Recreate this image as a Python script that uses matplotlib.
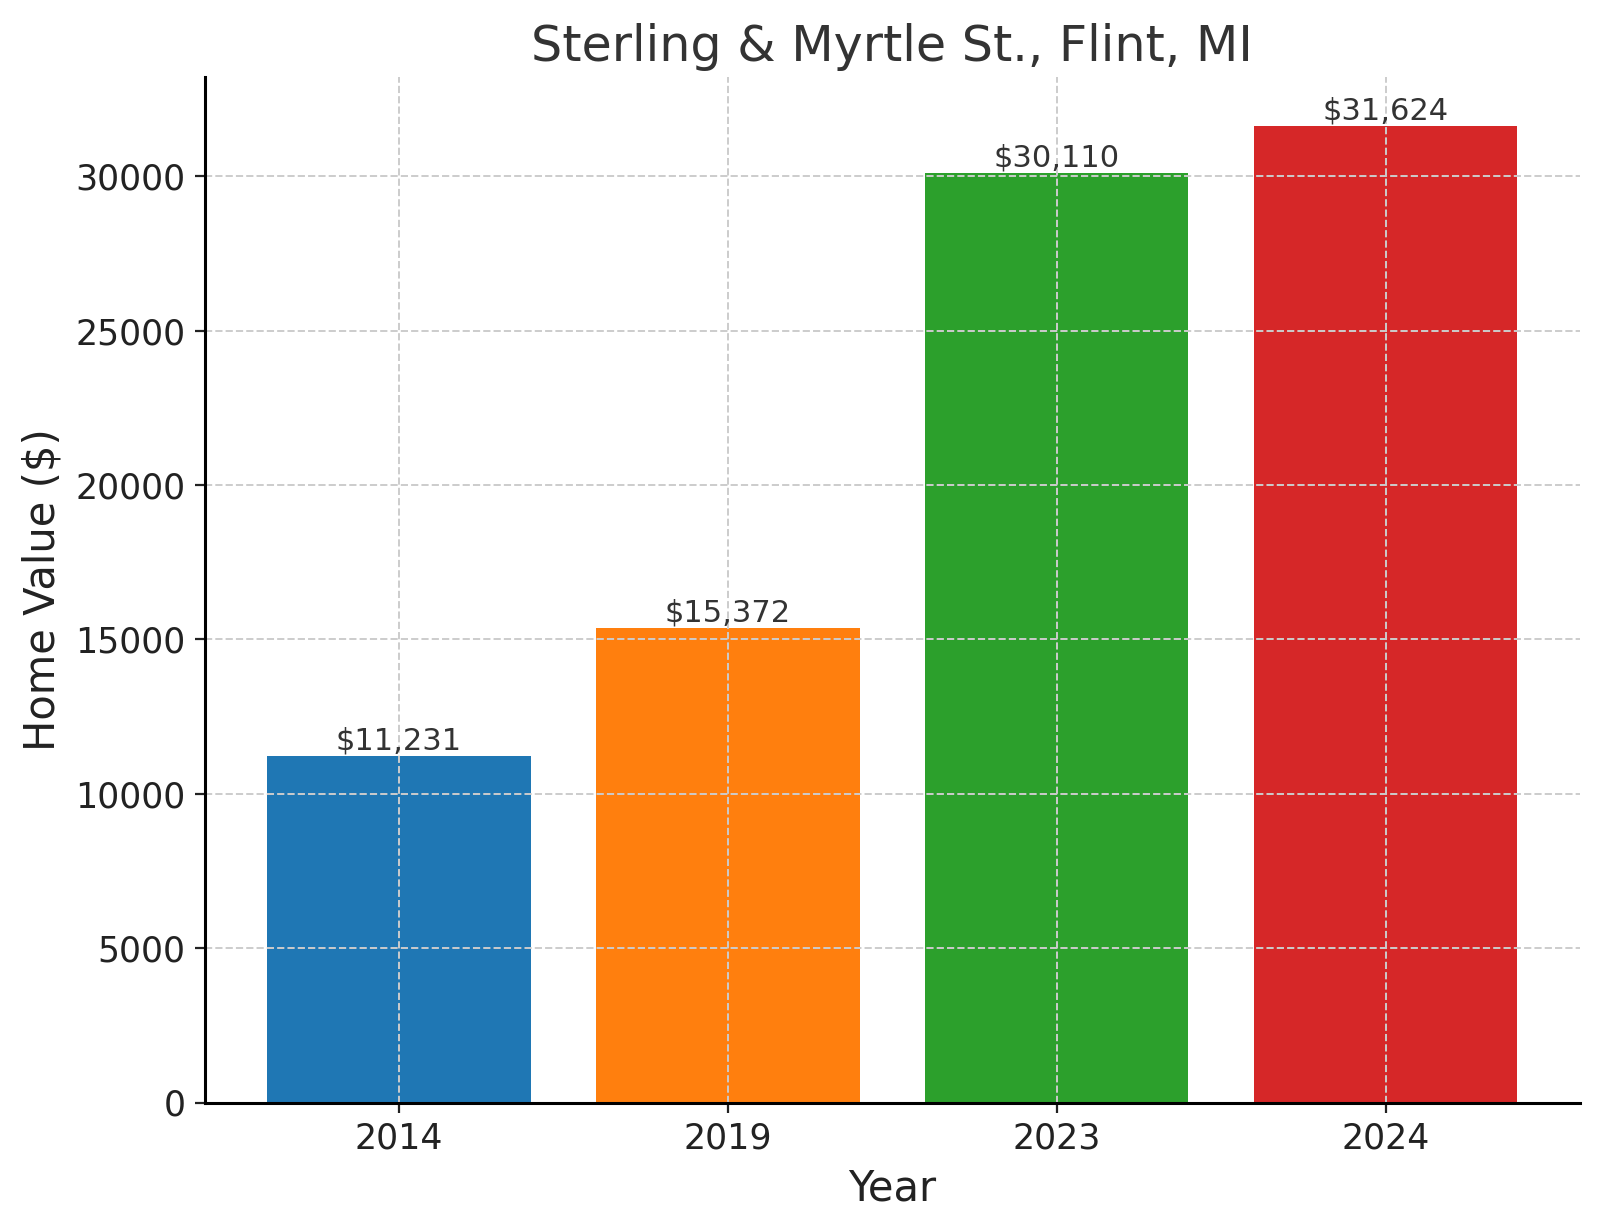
import matplotlib
matplotlib.use("Agg")
import matplotlib.pyplot as plt

years = ["2014", "2019", "2023", "2024"]
values = [11231, 15372, 30110, 31624]
colors = ["#1f77b4", "#ff7f0e", "#2ca02c", "#d62728"]

fig, ax = plt.subplots(figsize=(8, 6.125), dpi=200)
fig.subplots_adjust(left=0.128, right=0.9875, bottom=0.100, top=0.937)

bars = ax.bar(years, values, color=colors, width=0.8)
for b, v in zip(bars, values):
    ax.text(b.get_x() + b.get_width() / 2, v, f"${v:,}", ha="center", va="bottom",
            fontsize=11, color="#333333")

ax.set_title("Sterling & Myrtle St., Flint, MI", fontsize=17.7, color="#333333")
ax.set_xlabel("Year", fontsize=15, color="#222222")
ax.set_ylabel("Home Value ($)", fontsize=15, color="#222222")
ax.tick_params(labelsize=12.5, colors="#222222")
ax.grid(True, linestyle="--", color="#cccccc", linewidth=0.7)
ax.set_axisbelow(False)
for s in ["top", "right"]:
    ax.spines[s].set_visible(False)
for s in ["left", "bottom"]:
    ax.spines[s].set_zorder(4)
    ax.spines[s].set_linewidth(1.1)

fig.savefig("out.png", dpi=200)
